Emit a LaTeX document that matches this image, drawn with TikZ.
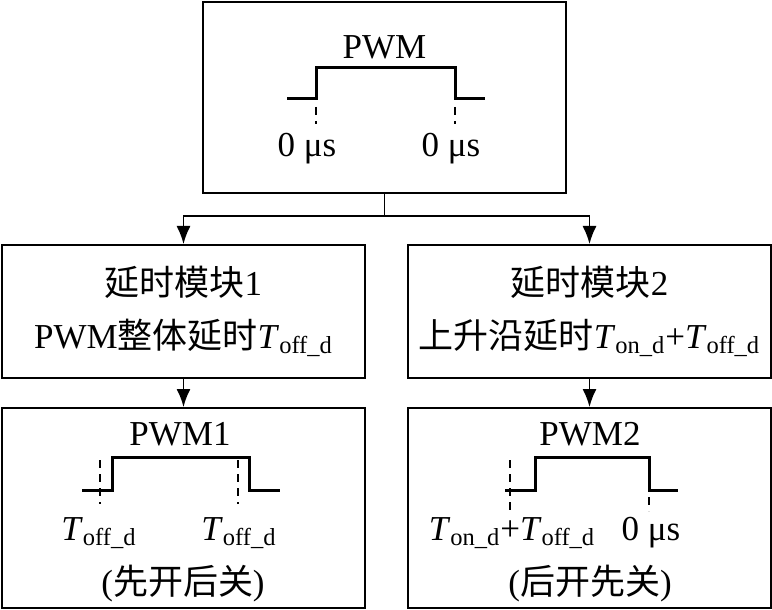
\documentclass[tikz,border=0pt]{standalone}
\usepackage{fontspec}
\setmainfont{Liberation Serif}
\newfontfamily\cjk{Noto Sans CJK SC}
\usetikzlibrary{arrows.meta}

\newcommand{\Toff}{\textit{T}\textsubscript{off\_d}}
\newcommand{\Ton}{\textit{T}\textsubscript{on\_d}}

\begin{document}
\begin{tikzpicture}[
    x = 0.5pt, y = -0.5pt,
    every node/.style = {font=\fontsize{17.5}{21}\selectfont},
    blockbox/.style   = {draw, line width=1pt, minimum width=181.5pt, inner sep=0pt, align=center},
    link/.style       = {line width=0.8pt},
    arrowlink/.style  = {link, -{Latex[length=9pt,width=7pt]}},
    wave/.style       = {line width=1.5pt, line join=miter},
    guide/.style      = {line width=0.7pt, dash pattern=on 4pt off 3pt},
    txt/.style        = {anchor=base, inner sep=0pt}
]
    \useasboundingbox (0,0) rectangle (772,610);

    \node[blockbox, minimum height=95.5pt] (pwmbox)  at (384.5,97.5) {};
    \node[blockbox, minimum height=66.5pt] (mod1)    at (183.5,311.5)
        {{\cjk 延时模块}1\\[5.5pt]PWM{\cjk 整体延时}\Toff};
    \node[blockbox, minimum height=66.5pt] (mod2)    at (589.5,311.5)
        {{\cjk 延时模块}2\\[5.5pt]{\cjk 上升沿延时}\Ton+\Toff};
    \node[blockbox, minimum height=100pt]  (pwm1box) at (183.5,508) {};
    \node[blockbox, minimum height=100pt]  (pwm2box) at (589.5,508) {};

    \coordinate (split) at (384.5,216);
    \draw[link]      (pwmbox.south) -- (split);
    \draw[arrowlink] (split) -| (mod1.north);
    \draw[arrowlink] (split) -| (mod2.north);
    \draw[arrowlink] (mod1.south) -- (pwm1box.north);
    \draw[arrowlink] (mod2.south) -- (pwm2box.north);

    % input PWM
    \node[txt] (pwmtitle) at (384.5,59) {PWM};
    \draw[wave]  (287,99) -- (316,99) -- (316,68) -- (455,68) -- (455,99) -- (485,99);
    \draw[guide] (316,107) -- (316,124);
    \draw[guide] (455,107) -- (455,124);
    \node[txt] (zero1) at (307,157) {0~μs};
    \node[txt] (zero2) at (451,157) {0~μs};

    % PWM1
    \node[txt] (pwm1title) at (180,445) {PWM1};
    \draw[wave]  (82,490) -- (112,490) -- (112,457) -- (249,457) -- (249,490) -- (280,490);
    \draw[guide] (100,460) -- (100,504);
    \draw[guide] (238,460) -- (238,504);
    \node[txt] (toff1)  at (99,540)  {\Toff};
    \node[txt] (toff2)  at (239,540) {\Toff};
    \node[txt] (order1) at (183,594) {({\cjk 先开后关})};

    % PWM2
    \node[txt] (pwm2title) at (590,445) {PWM2};
    \draw[wave]  (505,490) -- (535,490) -- (535,457) -- (649,457) -- (649,490) -- (678,490);
    \draw[guide] (510,460) -- (510,511);
    \draw[guide] (649,497) -- (649,511);
    \node[txt] (tsum)   at (512,540) {\Ton+\Toff};
    \node[txt] (zero3)  at (651,540) {0~μs};
    \node[txt] (order2) at (590,594) {({\cjk 后开先关})};
\end{tikzpicture}
\end{document}
